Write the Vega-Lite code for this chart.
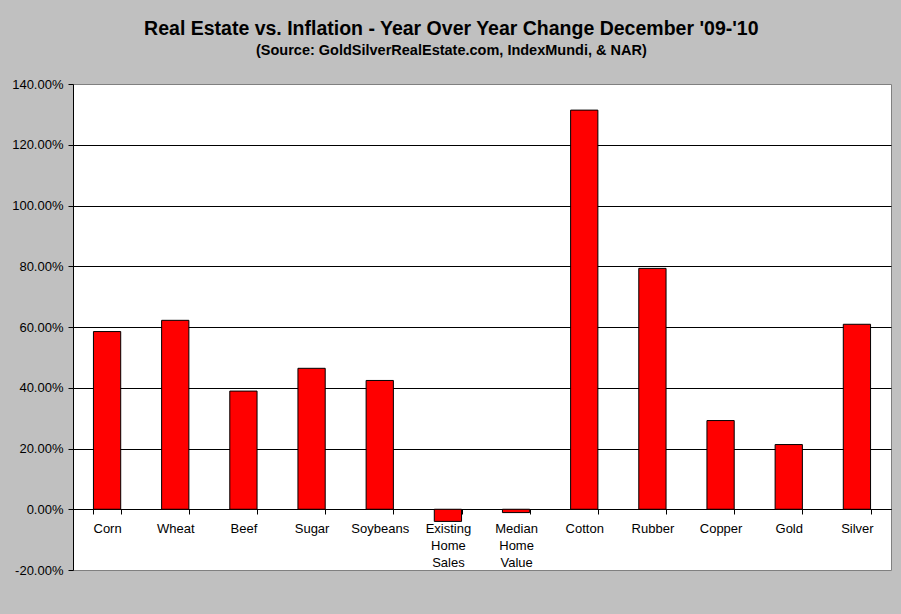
{
  "$schema": "https://vega.github.io/schema/vega-lite/v6.json",
  "width": 818,
  "height": 486,
  "autosize": "none",
  "padding": {"left": 73, "top": 84, "right": 10, "bottom": 44},
  "background": "#C0C0C0",
  "config": {
    "view": {"fill": "white", "stroke": "#808080", "strokeWidth": 1},
    "font": "Liberation Sans"
  },
  "title": {
    "text": "Real Estate vs. Inflation - Year Over Year Change December '09-'10",
    "subtitle": "(Source: GoldSilverRealEstate.com, IndexMundi, & NAR)",
    "font": "Liberation Sans",
    "subtitleFont": "Liberation Sans",
    "fontSize": 19.5,
    "fontWeight": "bold",
    "color": "black",
    "subtitleFontSize": 14.5,
    "subtitleFontWeight": "bold",
    "subtitleColor": "black",
    "subtitlePadding": 4,
    "anchor": "middle",
    "frame": "bounds",
    "offset": 20
  },
  "data": {
    "values": [
      {"item": "Corn", "change": 0.585},
      {"item": "Wheat", "change": 0.622},
      {"item": "Beef", "change": 0.389},
      {"item": "Sugar", "change": 0.464},
      {"item": "Soybeans", "change": 0.424},
      {"item": "Existing Home Sales", "change": -0.04},
      {"item": "Median Home Value", "change": -0.011},
      {"item": "Cotton", "change": 1.314},
      {"item": "Rubber", "change": 0.793},
      {"item": "Copper", "change": 0.292},
      {"item": "Gold", "change": 0.213},
      {"item": "Silver", "change": 0.609}
    ]
  },
  "mark": {"type": "bar", "fill": "#FF0000", "stroke": "black", "strokeWidth": 1},
  "encoding": {
    "x": {
      "field": "item",
      "type": "nominal",
      "sort": null,
      "scale": {"paddingInner": 0.6, "paddingOuter": 0.3},
      "axis": {
        "title": null,
        "labelAngle": 0,
        "offset": -61,
        "tickBand": "extent",
        "tickSize": 5,
        "tickColor": "black",
        "domainColor": "black",
        "labelColor": "black",
        "labelFontSize": 13,
        "labelPadding": 8,
        "labelLineHeight": 17,
        "labelBaseline": "top",
        "labelOverlap": false,
        "labelExpr": "split(datum.label, ' ')",
        "grid": false
      }
    },
    "y": {
      "field": "change",
      "type": "quantitative",
      "scale": {"domain": [-0.2, 1.4], "nice": false, "zero": false},
      "axis": {
        "title": null,
        "values": [-0.2, 0, 0.2, 0.4, 0.6, 0.8, 1.0, 1.2, 1.4],
        "format": ".2%",
        "labelExpr": "replace(datum.label, '−', '-')",
        "grid": true,
        "gridColor": "black",
        "gridOpacity": {"condition": {"test": "datum.value < -0.1 || datum.value > 1.3", "value": 0}, "value": 1},
        "domainColor": "black",
        "tickColor": "black",
        "tickSize": 5,
        "labelPadding": 5,
        "labelColor": "black",
        "labelFontSize": 13
      }
    }
  }
}
